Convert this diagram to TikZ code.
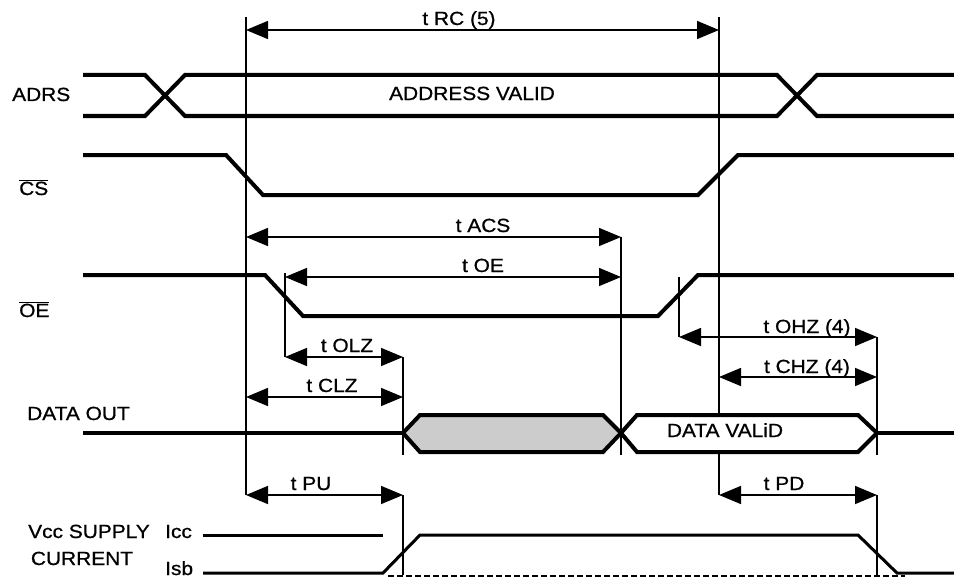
\documentclass[tikz,border=0pt]{standalone}
\usepackage{fontspec}
\setmainfont[FakeStretch=1.1,FakeBold=0.8]{Liberation Sans}
\usetikzlibrary{arrows.meta}
\newcommand{\barSig}[1]{$\overline{\mbox{#1}}$}

\begin{document}
\begin{tikzpicture}[x=1pt,y=-1pt,
  font=\fontsize{19}{22}\selectfont,
  sig/.style={line width=4pt, line join=miter},
  supply/.style={line width=3pt},
  refline/.style={line width=1.8pt},
  dimline/.style={line width=1.6pt, {Triangle[length=22pt,width=18pt]}-{Triangle[length=22pt,width=18pt]}},
  lbl/.style={anchor=base, inner sep=0pt},
  sidelbl/.style={anchor=base west, inner sep=0pt}]
\useasboundingbox (0,0) rectangle (954,578);
\coordinate (rcL) at (246,30);
\coordinate (rcR) at (719,30);
\coordinate (acsL) at (246,237);
\coordinate (acsR) at (621,237);
\coordinate (oeL) at (285,277);
\coordinate (oeR) at (621,277);
\coordinate (olzL) at (285,357);
\coordinate (olzR) at (403,357);
\coordinate (clzL) at (246,397);
\coordinate (clzR) at (403,397);
\coordinate (ohzL) at (679,337);
\coordinate (ohzR) at (877,337);
\coordinate (chzL) at (719,377);
\coordinate (chzR) at (877,377);
\coordinate (puL) at (246,495);
\coordinate (puR) at (403,495);
\coordinate (pdL) at (719,495);
\coordinate (pdR) at (877,495);
\coordinate (csTop) at (246,17);
\coordinate (csEnd) at (719,17);
\coordinate (oeTop) at (285,273);
\coordinate (ohzTop) at (679,277);
\coordinate (dvTop) at (719,417);
\coordinate (dvBot) at (719,453);
\coordinate (olzBot) at (403,455);
\coordinate (acsBot) at (621,455);
\coordinate (ohzBot) at (877,455);
\coordinate (isbL) at (403,575);
\coordinate (isbR) at (877,575);
\draw[refline] (csTop) -- (puL);
\draw[refline] (csEnd) -- (dvTop) (dvBot) -- (pdL);
\draw[refline] (acsR) -- (acsBot);
\draw[refline] (olzR) -- (olzBot) (puR) -- (isbL);
\draw[refline] (oeTop) -- (olzL);
\draw[refline] (ohzTop) -- (ohzL);
\draw[refline] (ohzR) -- (ohzBot) (pdR) -- (isbR);
\draw[dimline] (rcL) -- (rcR);
\draw[dimline] (acsL) -- (acsR);
\draw[dimline] (oeL) -- (oeR);
\draw[dimline] (olzL) -- (olzR);
\draw[dimline] (clzL) -- (clzR);
\draw[dimline] (ohzL) -- (ohzR);
\draw[dimline] (chzL) -- (chzR);
\draw[dimline] (puL) -- (puR);
\draw[dimline] (pdL) -- (pdR);
\node[lbl] (rcText) at (459,25) {t RC (5)};
\node[lbl] (acsText) at (483,232) {t ACS};
\node[lbl] (oeText) at (483,272) {t OE};
\node[lbl] (olzText) at (347,352) {t OLZ};
\node[lbl] (clzText) at (332,392) {t CLZ};
\node[lbl] (ohzText) at (807,333) {t OHZ (4)};
\node[lbl] (chzText) at (807,373) {t CHZ (4)};
\node[lbl] (puText) at (311,490) {t PU};
\node[lbl] (pdText) at (784,490) {t PD};
\draw[sig] (83,75) -- (145,75) -- (185,116) -- (777,116) -- (817,75) -- (954,75);
\draw[sig] (83,116) -- (145,116) -- (185,75) -- (777,75) -- (817,116) -- (954,116);
\node[lbl] (adrsValid) at (472,100) {ADDRESS VALID};
\draw[sig] (83,155) -- (226,155) -- (263,195) -- (698,195) -- (738,155) -- (954,155);
\draw[sig] (83,275) -- (265,275) -- (303,316) -- (658,316) -- (698,275) -- (954,275);
\draw[sig] (83,433) -- (403,433);
\draw[sig, fill=gray!40] (403,433) -- (420,415) -- (603,415) -- (621,433) -- (603,452) -- (420,452) -- cycle;
\draw[sig] (621,433) -- (637,415) -- (858,415) -- (877,433) -- (858,452) -- (637,452) -- cycle;
\draw[sig] (877,433) -- (954,433);
\node[lbl] (dataValid) at (725,437) {DATA VALiD};
\draw[supply] (203,535) -- (383,535);
\draw[supply] (203,573) -- (383,573) -- (420,535) -- (858,535) -- (897,573) -- (954,573);
\draw[line width=2.4pt, dash pattern=on 6pt off 3pt] (388,576) -- (905,576);
\node[sidelbl] (adrsLbl) at (12,101) {ADRS};
\node[sidelbl] (csLbl) at (19,195) {\barSig{CS}};
\node[sidelbl] (oeLbl) at (19,317) {\barSig{OE}};
\node[sidelbl] (dataLbl) at (27,420) {DATA OUT};
\node[sidelbl] (vccLbl) at (28,538) {Vcc SUPPLY};
\node[lbl] (curLbl) at (82,565) {CURRENT};
\node[sidelbl] (iccLbl) at (165,538) {Icc};
\node[sidelbl] (isbLbl) at (165,575) {Isb};
\end{tikzpicture}
\end{document}
